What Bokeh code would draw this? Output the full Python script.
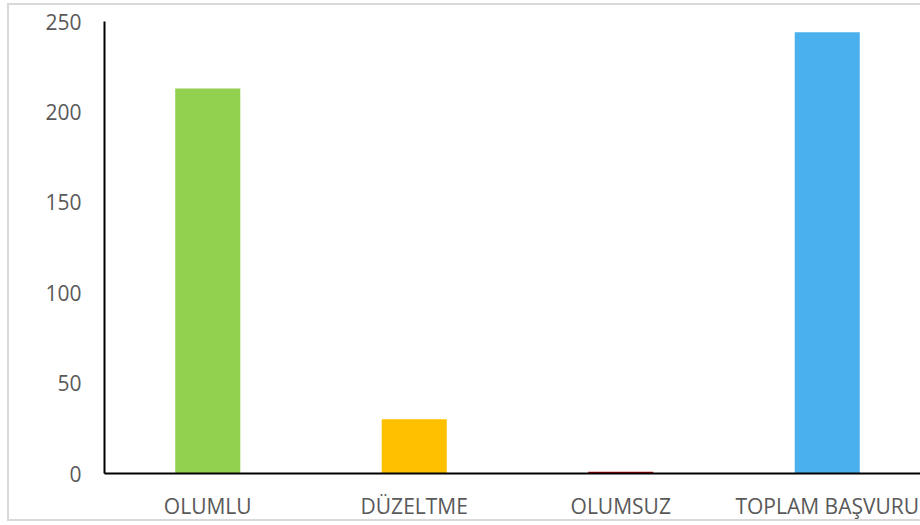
from bokeh.plotting import figure
from bokeh.models import Range1d, FixedTicker, ColumnDataSource
from bokeh.embed import file_html
from bokeh.resources import INLINE

categories = ["OLUMLU", "DÜZELTME", "OLUMSUZ", "TOPLAM BAŞVURU"]
values = [213, 30, 1, 244]
colors = ["#92D050", "#FFC000", "#C00000", "#4AB0EE"]
y_ticks = [0, 50, 100, 150, 200, 250]

xs = list(range(len(categories)))
src = ColumnDataSource(dict(x=xs, top=values, color=colors))

off_x, off_y = 7, 5
W, H = 920 - off_x, 520
left = 104 - off_x
top_b = 21 - off_y
bottom_b = (off_y + H) - 473
frame_w = W - left
spacing = 206.5
p = figure(width=W, height=H, output_backend="svg", toolbar_location=None,
           x_range=Range1d(-0.5, -0.5 + frame_w / spacing), y_range=Range1d(0, 250),
           min_border_left=left, min_border_right=0, min_border_top=top_b, min_border_bottom=bottom_b)
p.vbar(x="x", top="top", width=0.315, color="color", source=src, line_color=None)

p.xgrid.visible = False
p.ygrid.visible = False
p.outline_line_color = None
p.background_fill_color = "white"
p.border_fill_color = None

p.xaxis.ticker = FixedTicker(ticks=xs)
p.xaxis.major_label_overrides = {i: c for i, c in enumerate(categories)}
p.yaxis.ticker = FixedTicker(ticks=y_ticks)
for ax in (p.xaxis[0], p.yaxis[0]):
    ax.major_tick_line_color = None
    ax.minor_tick_line_color = None
    ax.axis_line_color = "#000000"
    ax.axis_line_width = 2
    ax.major_label_text_font = "Open Sans"
    ax.major_label_text_font_size = "21px"
    ax.major_label_text_color = "#595959"
p.xaxis.major_label_standoff = 12
p.yaxis.major_label_standoff = 17

line_y = 519 - off_y
p.styles = {"margin-left": f"{off_x}px", "margin-top": f"{off_y}px",
            "box-shadow": "0 -2px 0 0 #D9D9D9",
            "background": f"linear-gradient(#D9D9D9, #D9D9D9) left top / 2px {line_y + 2}px no-repeat, "
                          f"linear-gradient(to bottom, #FFFFFF 0px, #FFFFFF {line_y}px, "
                          f"#D9D9D9 {line_y}px, #D9D9D9 {line_y + 2}px, #FFFFFF {line_y + 2}px)"}

open("out.html", "w").write(file_html(p, INLINE))
